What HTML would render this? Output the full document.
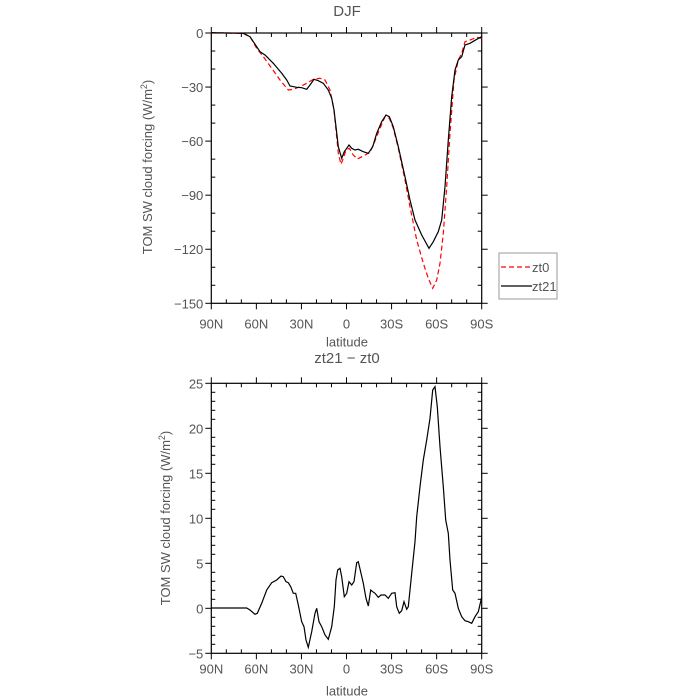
<!DOCTYPE html><html><head><meta charset="utf-8"><style>body{margin:0;background:#fff}svg{display:block}text{font-family:"Liberation Sans",sans-serif;fill:#555}</style></head><body>
<svg id="s" width="700" height="700" xmlns="http://www.w3.org/2000/svg"></svg>
<script>
const s=document.getElementById('s');let h='';
function P(a,oy){return a.map((p,i)=>(i?'L':'M')+(150+p[0]/3).toFixed(1)+' '+(oy+p[1]/3).toFixed(1)).join(' ');}
function axes(top,bot,ymaj,ymin,tko,lbo){
 const L=211.3,R=481.7;
 h+=`<rect x="${L}" y="${top}" width="${R-L}" height="${bot-top}" fill="none" stroke="#000" stroke-width="1.2"/>`;
 for(let i=0;i<=18;i++){const x=L+(R-L)*i/18;if(i%3==0){h+=`<line x1="${x}" y1="${bot}" x2="${x}" y2="${bot+6}" stroke="#000"/><line x1="${x}" y1="${top}" x2="${x}" y2="${top-6}" stroke="#000"/>`;}else{h+=`<line x1="${x}" y1="${bot}" x2="${x}" y2="${bot-4}" stroke="#000"/><line x1="${x}" y1="${top}" x2="${x}" y2="${top+4}" stroke="#000"/>`;}}
 ['90N','60N','30N','0','30S','60S','90S'].forEach((t,i)=>{h+=`<text x="${L+(R-L)*i/6}" y="${bot+tko}" font-size="13" text-anchor="middle">${t}</text>`;});
 ymin.forEach(y=>{h+=`<line x1="${L}" y1="${y}" x2="${L+4}" y2="${y}" stroke="#000"/><line x1="${R}" y1="${y}" x2="${R-4}" y2="${y}" stroke="#000"/>`;});
 ymaj.forEach(([y,t])=>{h+=`<line x1="${L}" y1="${y}" x2="${L-6}" y2="${y}" stroke="#000"/><line x1="${R}" y1="${y}" x2="${R+6}" y2="${y}" stroke="#000"/><text x="${L-8}" y="${y+5}" font-size="13" text-anchor="end">${t.replace('-','\u2212')}</text>`;});
 h+=`<text x="347" y="${bot+lbo}" font-size="13" text-anchor="middle">latitude</text>`;
}
// top
let ym=[],yn=[];for(let v=0;v>=-150;v-=30)ym.push([33+(-v)*270.3/150,String(v)]);for(let v=0;v>=-150;v-=10)if(v%30)yn.push(33+(-v)*270.3/150);
axes(33,303.3,ym,yn,25,43);
h+=`<text x="347" y="16" font-size="15" text-anchor="middle">DJF</text>`;
h+=`<text transform="translate(152,167) rotate(-90)" font-size="13" text-anchor="middle">TOM SW cloud forcing (W/m<tspan font-size="9" dy="-5">2</tspan><tspan dy="5">)</tspan></text>`;
const blk=[[184,98],[280,100],[300,110],[320,140],[330,155],[345,165],[370,190],[395,220],[410,240],[420,258],[440,262],[455,263],[470,268],[480,255],[492,238],[505,242],[520,250],[535,270],[545,295],[552,330],[558,380],[565,440],[575,475],[583,455],[590,445],[597,435],[605,445],[615,450],[625,448],[640,455],[655,460],[668,440],[680,400],[695,365],[708,345],[718,350],[730,380],[745,440],[765,530],[780,600],[795,660],[815,705],[837,745],[850,725],[865,695],[875,660],[885,560],[895,420],[905,290],[915,210],[925,180],[935,170],[945,135],[960,130],[980,118],[995,110]];
const red=[[184,98],[280,100],[300,110],[320,145],[340,170],[365,205],[390,240],[415,270],[430,268],[450,260],[470,250],[490,238],[510,235],[525,240],[540,270],[552,330],[558,390],[565,460],[573,493],[580,475],[588,450],[598,445],[610,465],[622,477],[640,468],[660,457],[672,430],[690,385],[705,350],[718,355],[730,385],[745,445],[765,540],[780,620],[800,720],[820,790],[835,835],[848,865],[860,840],[870,790],[880,700],[890,560],[900,400],[912,240],[925,180],[935,160],[945,125],[960,120],[980,112],[995,115]];
h+=`<path d="${P(red,0)}" fill="none" stroke="#f00" stroke-width="1.2" stroke-dasharray="5,3"/>`;
h+=`<path d="${P(blk,0)}" fill="none" stroke="#000" stroke-width="1.2"/>`;
h+=`<rect x="499" y="253" width="58" height="46" fill="#fff" stroke="#999"/>`;
h+=`<line x1="501" y1="267" x2="532" y2="267" stroke="#f00" stroke-width="1.2" stroke-dasharray="5,3"/><text x="532" y="272" font-size="13">zt0</text>`;
h+=`<line x1="501" y1="286" x2="532" y2="286" stroke="#000" stroke-width="1.2"/><text x="532" y="291" font-size="13">zt21</text>`;
// bottom
ym=[];yn=[];for(let v=25;v>=-5;v-=5)ym.push([608.3-v*9,String(v)]);for(let v=25;v>=-5;v--)if(v%5)yn.push(608.3-v*9);
axes(383.3,653.3,ym,yn,20,42);
h+=`<text x="347" y="363" font-size="15" text-anchor="middle">zt21 \u2212 zt0</text>`;
h+=`<text transform="translate(170,518) rotate(-90)" font-size="13" text-anchor="middle">TOM SW cloud forcing (W/m<tspan font-size="9" dy="-5">2</tspan><tspan dy="5">)</tspan></text>`;
const d=[[184,744],[290,744],[300,750],[315,763],[322,760],[335,730],[350,690],[365,668],[380,660],[393,648],[400,650],[408,665],[415,668],[422,680],[430,700],[437,700],[445,735],[455,785],[462,800],[468,840],[475,862],[485,815],[495,760],[500,745],[507,785],[515,800],[525,825],[535,838],[545,800],[553,740],[558,660],[563,630],[570,625],[575,650],[583,710],[590,700],[597,665],[605,675],[612,665],[620,608],[625,605],[633,640],[640,670],[648,715],[655,738],[662,690],[668,695],[675,700],[685,712],[693,705],[705,705],[715,715],[725,700],[735,698],[740,740],[748,760],[755,752],[762,725],[770,748],[775,740],[785,640],[795,545],[800,470],[810,380],[820,300],[830,240],[840,175],[848,90],[855,80],[862,140],[870,260],[880,380],[887,480],[895,520],[900,600],[908,690],[915,700],[925,745],[935,770],[945,782],[955,785],[965,790],[975,770],[985,755],[995,712]];
h+=`<path d="${P(d,360)}" fill="none" stroke="#000" stroke-width="1.2"/>`;
s.innerHTML=h;
</script></body></html>
